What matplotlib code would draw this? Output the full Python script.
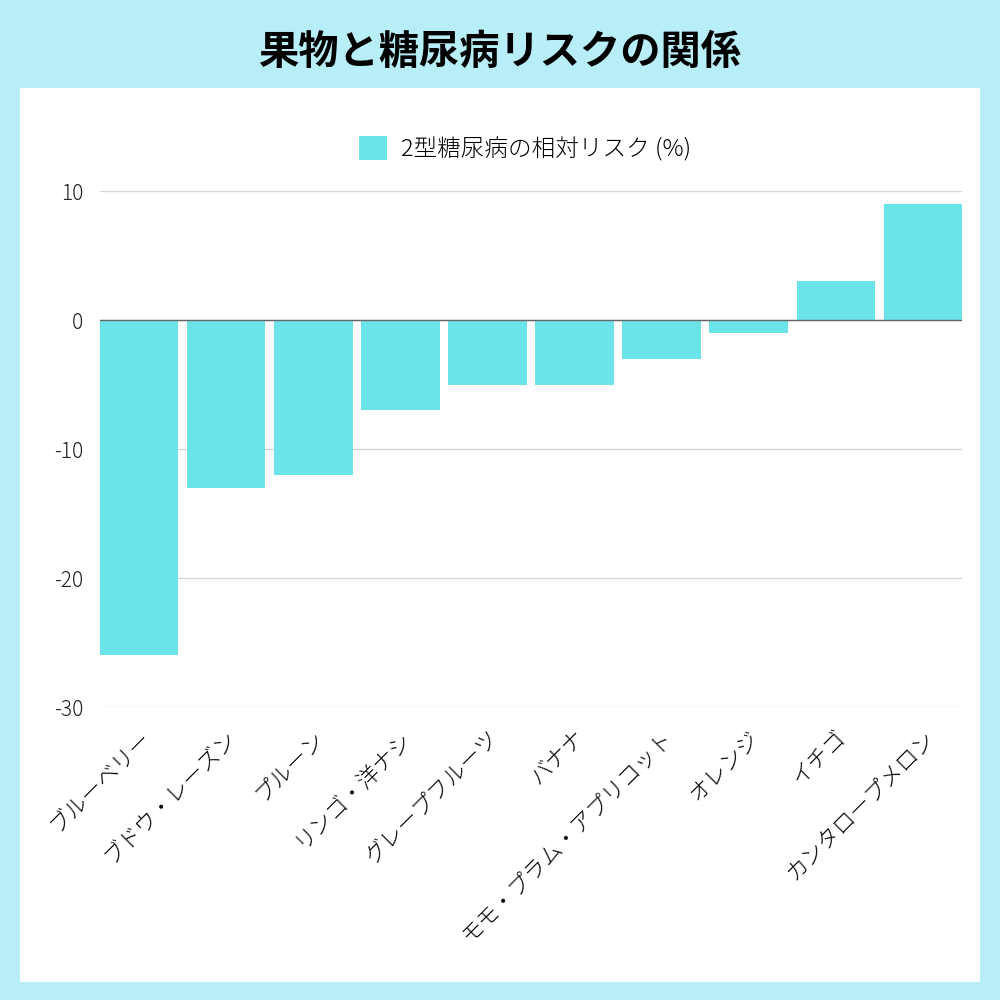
import matplotlib.pyplot as plt
from matplotlib.patches import Rectangle

plt.rcParams['font.family'] = ['Noto Sans CJK JP', 'DejaVu Sans']

fruits = ['ブルーベリー', 'ブドウ・レーズン', 'プルーン', 'リンゴ・洋ナシ', 'グレープフルーツ',
          'バナナ', 'モモ・プラム・アプリコット', 'オレンジ', 'イチゴ', 'カンタロープメロン']
risk = [-26, -13, -12, -7, -5, -5, -3, -1, 3, 9]
yticks = [10, 0, -10, -20, -30]

bg = '#b8eef7'
bar_color = '#6ae4e8'

fig = plt.figure(figsize=(10, 10), dpi=100, facecolor=bg)
fig.patches.append(Rectangle((0.02, 0.018), 0.96, 0.894, transform=fig.transFigure,
                             facecolor='white', edgecolor='none', zorder=-10))

ax = fig.add_axes([0.1, 0.293, 0.862, 0.516])
ax.set_facecolor('none')
x = range(len(fruits))
ax.bar(x, risk, width=0.9, color=bar_color, label='2型糖尿病の相対リスク (%)', zorder=2)
ax.set_xlim(-0.45, len(fruits) - 0.55)
ax.set_ylim(-30, 10)
ax.set_yticks(yticks)
ax.set_yticklabels([str(v) for v in yticks], fontsize=15, fontweight='light', color='#222222')
ax.tick_params(axis='y', length=0, pad=12)
ax.tick_params(axis='x', length=0, pad=14)
ax.set_xticks(list(x))
ax.set_xticklabels(fruits, rotation=45, ha='right', rotation_mode='anchor',
                   fontsize=16, fontweight='light')
ax.grid(axis='y', color='#d6d6d6', linewidth=1, zorder=0)
ax.axhline(0, color='#666666', linewidth=1, zorder=3)
for s in ax.spines.values():
    s.set_visible(False)

fig.text(0.5, 0.948, '果物と糖尿病リスクの関係', ha='center', va='center',
         fontsize=29, fontweight='bold', color='black')
fig.legend(loc='center', bbox_to_anchor=(0.525, 0.851), frameon=False, fontsize=17,
           prop={'weight': 'light', 'size': 17},
           handlelength=1.2, handleheight=1.2, handletextpad=0.6)

fig.savefig('out.png', dpi=100, facecolor=bg)
